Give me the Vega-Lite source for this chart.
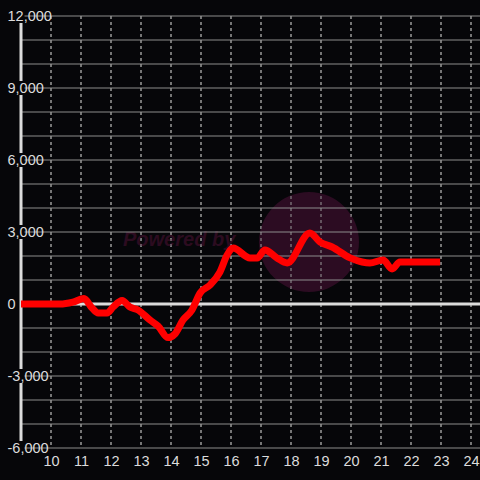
{
  "$schema": "https://vega.github.io/schema/vega-lite/v6.json",
  "width": 459,
  "height": 432,
  "autosize": {"type": "none"},
  "padding": {"left": 21, "top": 16, "right": 0, "bottom": 32},
  "background": "#060609",
  "config": {
    "view": {"stroke": null},
    "font": "Liberation Sans",
    "axis": {"labelFont": "Liberation Sans", "labelFontSize": 14.5, "labelColor": "#dcdcdc", "labelOverlap": false, "grid": false}
  },
  "datasets": {
    "series": [
      {"t": 9.0, "v": 0}, {"t": 10.3, "v": 0}, {"t": 10.73, "v": 80}, {"t": 11.1, "v": 230},
      {"t": 11.37, "v": -170}, {"t": 11.57, "v": -375}, {"t": 11.87, "v": -375}, {"t": 12.07, "v": -125},
      {"t": 12.37, "v": 150}, {"t": 12.63, "v": -125}, {"t": 12.9, "v": -250}, {"t": 13.3, "v": -670},
      {"t": 13.57, "v": -920}, {"t": 13.9, "v": -1400}, {"t": 14.13, "v": -1250}, {"t": 14.4, "v": -670},
      {"t": 14.7, "v": -250}, {"t": 14.97, "v": 460}, {"t": 15.3, "v": 790}, {"t": 15.63, "v": 1330},
      {"t": 15.87, "v": 2040}, {"t": 16.07, "v": 2330}, {"t": 16.63, "v": 1920}, {"t": 16.87, "v": 1920},
      {"t": 17.13, "v": 2250}, {"t": 17.53, "v": 1920}, {"t": 17.87, "v": 1710}, {"t": 18.63, "v": 2960},
      {"t": 18.97, "v": 2580}, {"t": 19.37, "v": 2375}, {"t": 19.97, "v": 1920}, {"t": 20.37, "v": 1750},
      {"t": 20.63, "v": 1710}, {"t": 21.07, "v": 1830}, {"t": 21.37, "v": 1460}, {"t": 21.63, "v": 1750},
      {"t": 22.97, "v": 1750}
    ],
    "ygrid": [{"g": -6000}, {"g": -5000}, {"g": -4000}, {"g": -3000}, {"g": -2000}, {"g": -1000}, {"g": 0}, {"g": 1000}, {"g": 2000}, {"g": 3000}, {"g": 4000}, {"g": 5000}, {"g": 6000}, {"g": 7000}, {"g": 8000}, {"g": 9000}, {"g": 10000}, {"g": 11000}, {"g": 12000}],
    "xgrid": [{"h": 10}, {"h": 11}, {"h": 12}, {"h": 13}, {"h": 14}, {"h": 15}, {"h": 16}, {"h": 17}, {"h": 18}, {"h": 19}, {"h": 20}, {"h": 21}, {"h": 22}, {"h": 23}, {"h": 24}],
    "ylabels": [{"m": 12000}, {"m": 9000}, {"m": 6000}, {"m": 3000}, {"m": -3000}, {"m": -6000}],
    "one": [{"k": 1}]
  },
  "resolve": {"axis": {"y": "independent"}},
  "layer": [
    {
      "data": {"name": "xgrid"},
      "mark": {"type": "rule", "color": "#9a9a9a", "strokeWidth": 1, "strokeDash": [3, 3]},
      "encoding": {
        "x": {"field": "h", "type": "quantitative",
          "scale": {"domain": [9, 24.3], "nice": false, "zero": false},
          "axis": {"values": [10, 11, 12, 13, 14, 15, 16, 17, 18, 19, 20, 21, 22, 23, 24], "grid": false,
            "domain": false, "ticks": false, "tickCount": 15,
            "labelPadding": 13, "labelBaseline": "middle", "title": null, "labelFlush": false, "labelOverlap": false,
            "labelSeparation": 0, "labelBound": false, "format": "d"}}
      }
    },
    {
      "data": {"name": "one"},
      "mark": {"type": "point", "shape": "circle", "filled": true, "size": 10000, "color": "#2c0c22", "opacity": 1, "strokeWidth": 0},
      "encoding": {
        "x": {"datum": 18.6, "type": "quantitative"},
        "y": {"datum": 2583, "type": "quantitative", "axis": null, "scale": {"domain": [-6000, 12000], "nice": false, "zero": false}}
      }
    },
    {
      "data": {"name": "one"},
      "mark": {"type": "text", "text": "Powered by", "font": "Liberation Sans", "fontSize": 20, "fontStyle": "italic", "fontWeight": "bold", "align": "left", "baseline": "middle", "color": "#2c0c20"},
      "encoding": {
        "x": {"datum": 12.4, "type": "quantitative"},
        "y": {"datum": 2667, "type": "quantitative", "axis": null}
      }
    },
    {
      "data": {"name": "ygrid"},
      "mark": {"type": "rule", "color": "#8c8c8c", "strokeWidth": 1},
      "encoding": {
        "y": {"field": "g", "type": "quantitative", "axis": null}
      }
    },
    {
      "data": {"name": "xgrid"},
      "mark": {"type": "rule", "color": "#9a9a9a", "strokeWidth": 1, "strokeDash": [3, 3]},
      "encoding": {
        "x": {"field": "h", "type": "quantitative"}
      }
    },
    {
      "data": {"name": "one"},
      "mark": {"type": "rule", "color": "#dcdcdc", "strokeWidth": 3},
      "encoding": {
        "y": {"datum": 0, "type": "quantitative", "axis": null}
      }
    },
    {
      "data": {"name": "one"},
      "mark": {"type": "rule", "color": "#dcdcdc", "strokeWidth": 3},
      "encoding": {
        "x": {"datum": 9, "type": "quantitative"}
      }
    },
    {
      "data": {"name": "ylabels"},
      "mark": {"type": "point", "shape": "M-0.5,-1H0.5V1H-0.5Z", "filled": true, "size": 196, "color": "#060609", "opacity": 1, "strokeWidth": 0},
      "encoding": {
        "x": {"datum": 9, "type": "quantitative"},
        "y": {"field": "m", "type": "quantitative",
          "axis": {"orient": "left", "zindex": 1, "grid": false, "ticks": false, "domain": false, "title": null,
            "values": [-6000, -3000, 0, 3000, 6000, 9000, 12000],
            "labelExpr": "replace(format(datum.value, ','), '\u2212', '-')",
            "labelAlign": "left", "labelBaseline": "middle", "labelPadding": 14,
            "encode": {"labels": {"update": {
              "dx": {"signal": "datum.value < 0 ? -5 : 0"},
              "dy": {"signal": "datum.value === -6000 ? -7 : 0"}
            }}}}},
        "yOffset": {"condition": {"test": "datum.m === -6000", "value": -7}, "value": 0}
      }
    },
    {
      "data": {"name": "series"},
      "mark": {"type": "line", "color": "#ff0000", "strokeWidth": 7, "strokeJoin": "round", "strokeCap": "butt", "interpolate": "monotone"},
      "encoding": {
        "x": {"field": "t", "type": "quantitative"},
        "y": {"field": "v", "type": "quantitative", "axis": null}
      }
    }
  ]
}
